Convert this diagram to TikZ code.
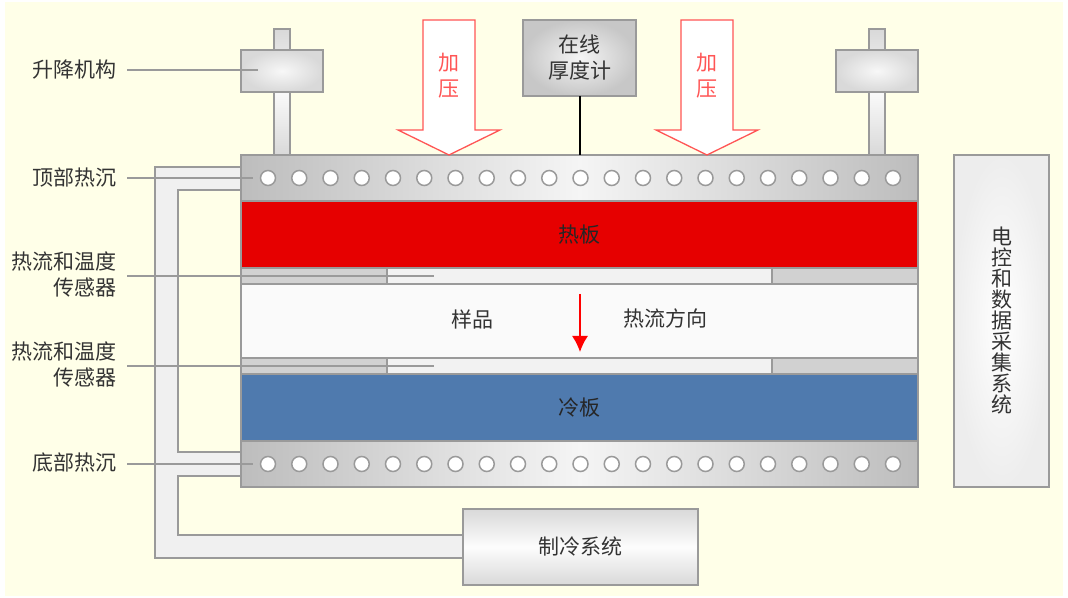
\documentclass[tikz,border=0pt]{standalone}
\usepackage{fontspec}
\setmainfont{Noto Sans CJK SC}
\usetikzlibrary{positioning,arrows.meta}
\newdimen\px
\px=0.75pt
\definecolor{bgyellow}{HTML}{FFFFE8}
\definecolor{edgegray}{HTML}{9A9A9A}
\definecolor{textgray}{HTML}{333333}
\definecolor{pressred}{HTML}{FF5555}
\definecolor{hotred}{HTML}{E60000}
\definecolor{coldblue}{HTML}{4F7AAE}
\tikzset{
part/.style={draw=edgegray,line width=1.8\px,inner sep=0pt,outer sep=0pt,anchor=north west,text=textgray},
sink/.style={part,minimum width=677\px,minimum height=46\px,left color=black!26,right color=black!26,middle color=black!4},
hole/.style={circle,draw=edgegray,line width=1.5\px,fill=white,minimum size=15\px,inner sep=0pt},
shaft/.style={part,minimum width=16\px,minimum height=126\px,top color=black!15,bottom color=black!15,middle color=black!2},
lift/.style={part,minimum width=82\px,minimum height=42\px,inner color=black!3,outer color=black!15},
sensor/.style={part,minimum height=16\px,fill=black!18},
lbl/.style={text=textgray,inner xsep=10\px,inner ysep=0pt,anchor=east,align=right},
leader/.style={draw=edgegray,line width=2\px},
}
\begin{document}
\begin{tikzpicture}[x=\px,y=-\px,font=\fontsize{15.75}{19.5}\selectfont]
\useasboundingbox (0,0) rectangle (1068,598);
\fill[bgyellow] (5,2) rectangle (1063,596);
% cooling pipes
\draw[draw=edgegray,line width=1.8\px,fill=black!6] (241,167) -- (155,167) -- (155,558) -- (463,558) -- (463,535)
  -- (178,535) -- (178,476) -- (241,476) -- (241,452) -- (178,452) -- (178,190) -- (241,190) -- cycle;
% lifting gear
\node[shaft] (shaftl) at (274,29) {};
\node[shaft] (shaftr) at (869,29) {};
\node[lift] (liftl) at (241,50) {};
\node[lift] (liftr) at (836,50) {};
% stack
\node[sink] (topsink) at (241,155) {};
\node[part,minimum width=677\px,minimum height=67\px,fill=hotred,text=black!85] (hotplate) at (241,201) {\raisebox{0.75pt}{热板}};
\node[sensor,minimum width=677\px,fill=black!5] (senup) at (241,268) {};
\node[sensor,minimum width=146\px] (senupl) at (241,268) {};
\node[sensor,minimum width=146\px] (senupr) at (772,268) {};
\node[part,minimum width=677\px,minimum height=74\px,fill=black!2] (sample) at (241,284) {};
\node[sensor,minimum width=677\px,fill=black!5] (sendn) at (241,358) {};
\node[sensor,minimum width=146\px] (sendnl) at (241,358) {};
\node[sensor,minimum width=146\px] (sendnr) at (772,358) {};
\node[part,minimum width=677\px,minimum height=67\px,fill=coldblue,text=black!85] (coldplate) at (241,374) {\raisebox{0.75pt}{冷板}};
\node[sink] (botsink) at (241,441) {};
\foreach \i in {0,...,20} {
  \node[hole] (holet\i) at ({268+31.25*\i},178) {};
  \node[hole] (holeb\i) at ({268+31.25*\i},464) {};
}
% boxes
\node[part,minimum width=95\px,minimum height=332\px,inner color=white,outer color=black!7,align=center,font=\fontsize{15.75}{15.75}\selectfont] (daq) at (954,155) {电\\控\\和\\数\\据\\采\\集\\系\\统};
\node[part,minimum width=113\px,minimum height=76\px,inner color=black!4,outer color=black!22,align=center] (gauge) at (523,20) {在线\\厚度计};
\node[part,minimum width=235\px,minimum height=76\px,top color=black!15,bottom color=black!15,middle color=black!1] (cooler) at (463,509) {\raisebox{1.5pt}{制冷系统}};
\draw[black,line width=2\px] (gauge.south) -- (gauge.south |- topsink.north);
% pressure arrows
\foreach \ax/\nm in {449/pressl,707/pressr} {
  \draw[pressred,line width=1.3\px,fill=white,line join=miter] ({\ax-26},20) -- ({\ax+26},20) -- ({\ax+26},130) -- ({\ax+51},130)
    -- (\ax,155) -- ({\ax-51},130) -- ({\ax-26},130) -- cycle;
  \node[text=pressred,align=center] (\nm) at (\ax,75.5) {加\\压};
}
% sample and heat flow
\node[text=textgray] (samplelbl) at (472,319) {样品};
\node[text=textgray] (flowlbl) at (665,319) {热流方向};
\coordinate (flowtop) at (580,294);
\coordinate (flowend) at (580,352);
\draw[-{Latex[length=12pt,width=12pt]},red,line width=1.5\px] (flowtop) -- (flowend);
% labels
\node[lbl] (liftlbl) at (127,70) {升降机构};
\node[lbl] (toplbl) at (127,178) {顶部热沉};
\node[lbl] (senuplbl) at (127,274.5) {热流和温度\\传感器};
\node[lbl] (sendnlbl) at (127,364) {热流和温度\\传感器};
\node[lbl] (botlbl) at (127,463) {底部热沉};
\coordinate (liftend) at (258,70);
\coordinate (topend) at (253,178);
\coordinate (senupend) at (434,276);
\coordinate (sendnend) at (434,366);
\coordinate (botend) at (253,464);
\foreach \a/\b in {liftlbl/liftend,toplbl/topend,senuplbl/senupend,sendnlbl/sendnend,botlbl/botend}
  \draw[leader] (\a.east |- \b) -- (\b);
\end{tikzpicture}
\end{document}
